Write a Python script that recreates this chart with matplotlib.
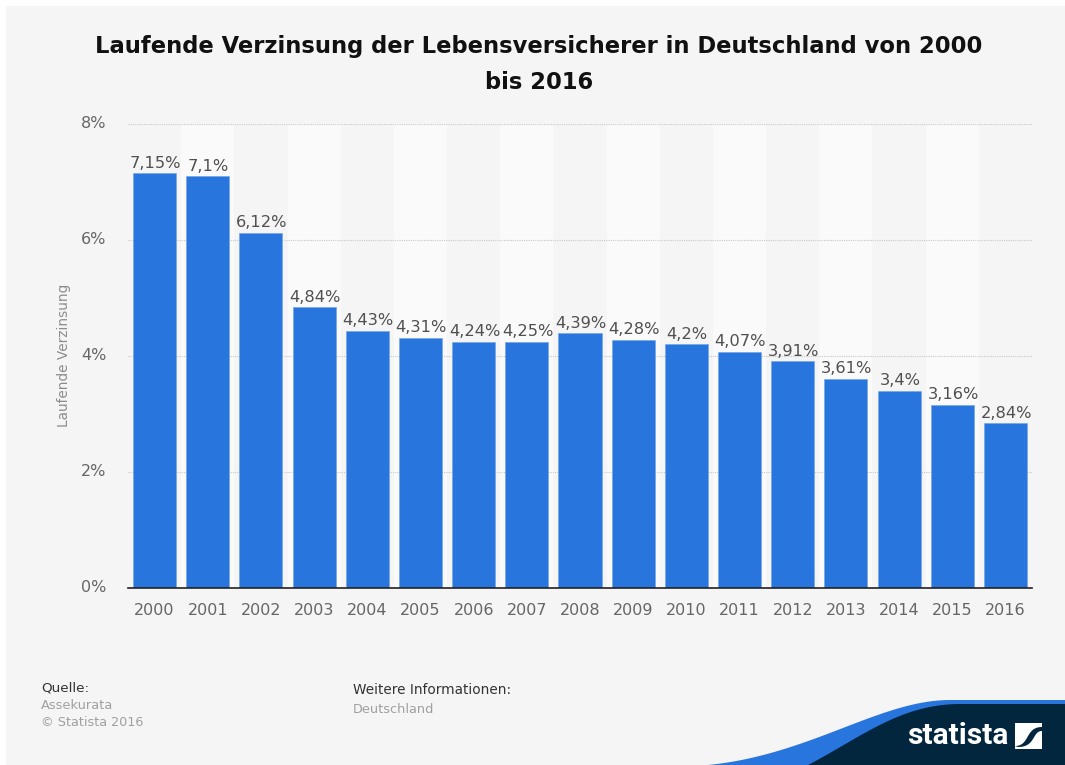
import numpy as np
import matplotlib
matplotlib.use("Agg")
import matplotlib.pyplot as plt
from matplotlib.patches import Rectangle
from matplotlib.transforms import ScaledTranslation

years = ["2000", "2001", "2002", "2003", "2004", "2005", "2006", "2007", "2008",
         "2009", "2010", "2011", "2012", "2013", "2014", "2015", "2016"]
values = [7.15, 7.1, 6.12, 4.84, 4.43, 4.31, 4.24, 4.25, 4.39,
          4.28, 4.2, 4.07, 3.91, 3.61, 3.4, 3.16, 2.84]
yticks = [0, 2, 4, 6, 8]

W, H = 1065, 765
BG = "#f5f5f5"
BLUE = "#2875de"
NAVY = "#03263f"

plt.rcParams['font.family'] = ['DejaVu Sans']
fig = plt.figure(figsize=(W / 100, H / 100), dpi=100, facecolor="white")


def px_text(x, y, s, **kw):
    fig.text(x / W, 1 - y / H, s, **kw)


def bezier(p0, p1, p2, p3, n=80):
    t = np.linspace(0, 1, n)[:, None]
    p0, p1, p2, p3 = map(np.array, (p0, p1, p2, p3))
    pts = (1 - t) ** 3 * p0 + 3 * (1 - t) ** 2 * t * p1 + 3 * (1 - t) * t ** 2 * p2 + t ** 3 * p3
    return pts[:, 0], pts[:, 1]


# card and footer shapes, in pixel coordinates
bg = fig.add_axes([0, 0, 1, 1], zorder=0)
bg.set_xlim(0, W)
bg.set_ylim(H, 0)
bg.axis("off")
bg.add_patch(Rectangle((6, 6), W - 6, H - 6, color=BG, lw=0))

xb, yb = bezier((708, 765), (810, 755), (880, 700), (950, 700))
bg.fill(np.r_[xb, W, W, 708], np.r_[yb, 700, 765, 765], color=BLUE, lw=0)
xn, yn = bezier((808, 765), (860, 738), (900, 704), (960, 704))
bg.fill(np.r_[xn, W, W, 808], np.r_[yn, 704, 765, 765], color=NAVY, lw=0)

# logo square
bg.add_patch(Rectangle((1015, 722.5), 27, 26.5, color="white", lw=0))
xs1, ys1 = bezier((1015, 746), (1030, 746), (1025, 727), (1042, 727))
xs2, ys2 = bezier((1042, 731), (1032, 731), (1036, 747), (1018, 747))
bg.fill(np.r_[xs1, xs2], np.r_[ys1, ys2], color=NAVY, lw=0)

# plot area
left, right, top, bottom = 128, 1032, 124, 588
ax = fig.add_axes([left / W, 1 - bottom / H, (right - left) / W, (bottom - top) / H], zorder=1)
ax.set_facecolor("none")
x = np.arange(len(years))
ax.set_xlim(-0.5, len(years) - 0.5)
ax.set_ylim(0, 8)

# alternating bands
for i in x[1::2]:
    ax.axvspan(i - 0.5, i + 0.5, color="#fafafa", lw=0, zorder=0)
ax.grid(axis="y", color="#c8c8c8", linestyle=(0, (1, 1)), linewidth=0.8, zorder=1)
ax.set_axisbelow(True)

ax.bar(x, values, width=0.81, color=BLUE, edgecolor="#6ea3ea", linewidth=0.4, zorder=2)
for xi, v in zip(x, values):
    ax.text(xi + 0.015, v + 0.045, f"{v:g}%".replace(".", ","), ha="center", va="bottom",
            fontsize=11.7, color="#505050", zorder=3)

for side in ["top", "right", "left"]:
    ax.spines[side].set_visible(False)
ax.spines["bottom"].set_color("#222222")
ax.spines["bottom"].set_linewidth(1.2)
ax.set_xticks(x)
ax.set_xticklabels(years)
ax.set_yticks(yticks)
ax.set_yticklabels([f"{v}%" for v in yticks])
ax.tick_params(axis="x", length=0, pad=10.5, labelsize=11.5, labelcolor="#666666")
ax.tick_params(axis="y", length=0, pad=15.5, labelsize=11.5, labelcolor="#666666")
# y labels sit a little above their gridlines
for lab in ax.get_yticklabels():
    lab.set_transform(lab.get_transform() + ScaledTranslation(0, 2 / 100, fig.dpi_scale_trans))
ax.set_ylabel("Laufende Verzinsung", fontsize=9.8, color="#8c8c8c")
ax.yaxis.set_label_coords((71 - left) / (right - left), 0.502)

# title
px_text(539, 64.5, "Laufende Verzinsung der Lebensversicherer in Deutschland von 2000\nbis 2016",
        ha="center", va="center", fontsize=16.3, fontweight="bold", color="#111111",
        linespacing=1.68, zorder=5)

# footer
px_text(41, 688, "Quelle:", fontsize=9.7, color="#333333", va="center", zorder=5)
px_text(41, 705.5, "Assekurata", fontsize=9.4, color="#a0a0a0", va="center", zorder=5)
px_text(41, 722, "© Statista 2016", fontsize=9.2, color="#a0a0a0", va="center", zorder=5)
px_text(353, 690, "Weitere Informationen:", fontsize=9.8, color="#333333", va="center", zorder=5)
px_text(353, 709.5, "Deutschland", fontsize=9.3, color="#a0a0a0", va="center", zorder=5)
px_text(907, 736, "statista", fontsize=21.5, fontweight="bold", color="white", va="center",
        family="Roboto", zorder=5)

fig.savefig("out.png", dpi=100, facecolor="white")
